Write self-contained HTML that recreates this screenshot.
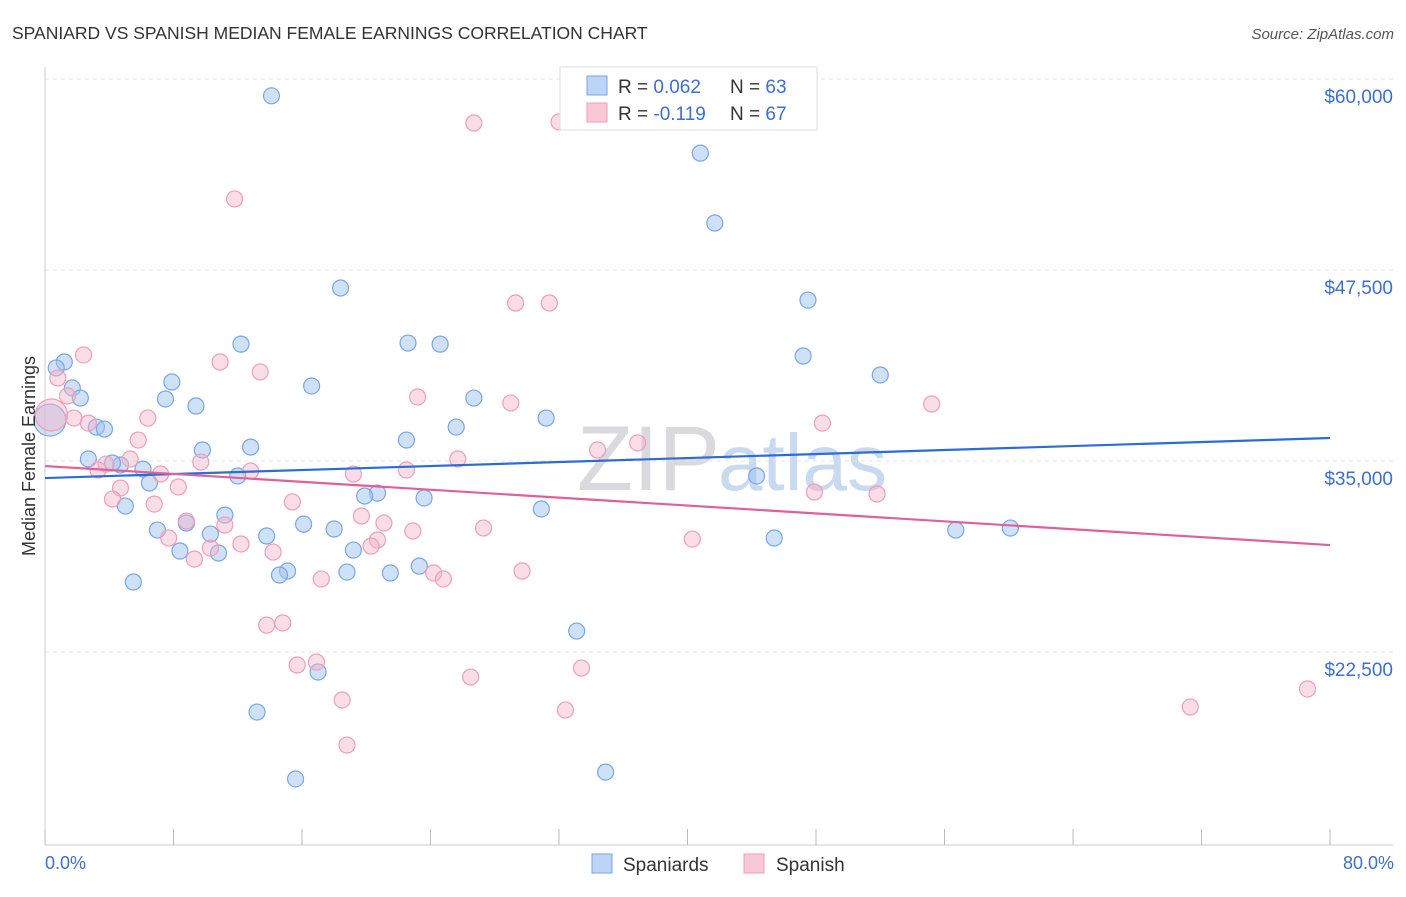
<!DOCTYPE html>
<html><head><meta charset="utf-8"><style>
body{margin:0;background:#fff;font-family:"Liberation Sans",sans-serif;}
svg text{font-family:"Liberation Sans",sans-serif;}
</style></head><body>
<svg id="chart" width="1406" height="892" viewBox="0 0 1406 892">
<text x="12" y="39" font-size="17.5" fill="#333">SPANIARD VS SPANISH MEDIAN FEMALE EARNINGS CORRELATION CHART</text>
<text x="1394" y="39" font-size="15" fill="#555" font-style="italic" text-anchor="end">Source: ZipAtlas.com</text>
<text x="720" y="490" font-size="92" fill="#d9d9de" text-anchor="end" font-family="Liberation Serif">ZIP</text>
<text x="718" y="490" font-size="80" fill="#c9d9ef">atlas</text>
<g id="grid"></g>
<g id="axes"></g>
<g id="pts"></g>
<g id="lines"></g>
<text transform="translate(35,456) rotate(-90)" font-size="18" fill="#333" text-anchor="middle">Median Female Earnings</text>
<text x="45" y="869" font-size="18" fill="#3d6fd0">0.0%</text>
<text x="1394" y="869" font-size="18" fill="#3d6fd0" text-anchor="end">80.0%</text>
<g>
<rect x="560" y="67" width="257" height="63" fill="#fff" stroke="#ddd"/>
<rect x="587" y="76" width="20" height="19" fill="#bcd4f5" stroke="#7aa6e6"/>
<rect x="587" y="103" width="20" height="19" fill="#f9c8d6" stroke="#ef9fb8"/>
<text x="618" y="93" font-size="19" fill="#333">R = <tspan fill="#3d6fd0">0.062</tspan><tspan x="730">N = </tspan><tspan fill="#3d6fd0">63</tspan></text>
<text x="618" y="120" font-size="19" fill="#333">R = <tspan fill="#3d6fd0">-0.119</tspan><tspan x="730">N = </tspan><tspan fill="#3d6fd0">67</tspan></text>
</g>
<g>
<rect x="592" y="854" width="20" height="19" fill="#bcd4f5" stroke="#7aa6e6"/>
<text x="623" y="871" font-size="19" fill="#333">Spaniards</text>
<rect x="744" y="854" width="20" height="19" fill="#f9c8d6" stroke="#ef9fb8"/>
<text x="776" y="871" font-size="19" fill="#333">Spanish</text>
</g>
</svg>
<script>
const yTicks=[22500,35000,47500,60000];
const yTickLabels=["$22,500","$35,000","$47,500","$60,000"];
const xTicks=[0,8,16,24,32,40,48,56,64,72,80];
const blueX=[14.1,40.8,41.7,18.4,47.5,12.2,22.6,24.6,47.2,52.0,1.2,0.7,1.7,7.9,16.6,2.2,7.5,9.4,26.7,31.2,3.2,3.7,25.6,22.5,9.8,12.8,2.7,4.7,6.1,4.2,12.0,6.5,44.3,20.7,19.9,23.6,5.0,30.9,11.2,8.8,7.0,16.1,18.0,10.3,13.8,56.7,60.1,45.4,8.4,10.8,19.2,15.1,14.6,18.8,21.5,23.3,5.5,33.1,17.0,13.2,15.6,34.9,0.3];
const blueY=[58900,55150,50575,46320,45530,42650,42720,42650,41870,40630,41480,41090,39780,40170,39910,39120,39060,38600,39120,37810,37220,37090,37220,36370,35720,35910,35130,34740,34470,34870,34020,33560,34020,32900,32710,32580,32050,31860,31460,30940,30480,30870,30550,30220,30090,30480,30610,29960,29110,28980,29170,27800,27540,27730,27670,28120,27080,23870,21190,18570,14190,14640,37680];
const pinkX=[26.7,32.0,11.8,29.3,31.4,2.4,10.9,13.4,0.8,1.4,23.2,29.0,55.2,6.4,1.8,48.4,2.7,5.8,36.9,34.4,5.3,9.7,3.8,3.3,25.7,7.2,12.8,19.2,22.5,4.7,8.3,4.2,47.9,51.8,15.4,6.8,19.7,21.1,8.8,11.2,27.3,22.9,7.7,40.3,12.2,20.7,20.3,10.3,14.2,9.3,29.7,17.2,24.2,24.8,13.8,14.8,15.7,16.9,33.4,26.5,18.5,32.4,71.3,78.6,18.8,0.4];
const pinkY=[57120,57190,52150,45340,45340,41940,41480,40830,40430,39260,39190,38800,38730,37810,37810,37480,37480,36370,36180,35720,35130,34930,34800,34410,35130,34150,34340,34150,34410,33230,33300,32510,32970,32840,32320,32180,31400,30940,31070,30810,30610,30420,29960,29890,29570,29830,29430,29300,29040,28580,27800,27280,27670,27280,24260,24400,21650,21840,21450,20860,19360,18700,18900,20080,16410,38010];
const blueTrend=[33885,36503];
const pinkTrend=[34670,29500];
const NS="http://www.w3.org/2000/svg";
const X=v=>45+v/80*1285;
const Y=v=>79+(60000-v)/12500*191;
function mk(tag,attrs,parent){const e=document.createElementNS(NS,tag);for(const k in attrs)e.setAttribute(k,attrs[k]);parent.appendChild(e);return e;}
const grid=document.getElementById('grid'),axes=document.getElementById('axes'),pts=document.getElementById('pts'),lines=document.getElementById('lines');
yTicks.forEach((t,i)=>{
 const l=mk('line',{x1:45,x2:1393,y1:Y(t),y2:Y(t),stroke:'#e3e3e3','stroke-dasharray':'4,4'},grid);
 
 
 const tx=mk('text',{x:1393,y:Y(t)+24,'font-size':19,fill:'#3d6fd0','text-anchor':'end'},grid);
 tx.textContent=yTickLabels[i];
 
 
});
const ya=mk('line',{x1:45,x2:45,y1:67,y2:845,stroke:'#ccc'},axes);


const xa=mk('line',{x1:45,x2:1393,y1:845,y2:845,stroke:'#ccc'},axes);


xTicks.forEach(t=>{
 const l=mk('line',{x1:X(t),x2:X(t),y1:829,y2:845,stroke:'#bbb'},axes);
 
 
});
function dots(xs,ys,fill,stroke,name){
 xs.forEach((v,i)=>{
  const big=i===xs.length-1;
  const c=mk('circle',{cx:X(v),cy:Y(ys[i]),r:big?16:8,fill:fill,stroke:stroke,'stroke-width':1.2},pts);
  
  
 });
}
dots(blueX,blueY,'rgba(160,195,240,0.5)','#7aa6e6','spaniards-point');
dots(pinkX,pinkY,'rgba(245,180,200,0.45)','#ef9fb8','spanish-point');
const bl=mk('line',{x1:X(0),x2:X(80),y1:Y(blueTrend[0]),y2:Y(blueTrend[1]),stroke:'#2a6dd6','stroke-width':2.2},lines);


const pl=mk('line',{x1:X(0),x2:X(80),y1:Y(pinkTrend[0]),y2:Y(pinkTrend[1]),stroke:'#e0609a','stroke-width':2.2},lines);


</script>
</body></html>
